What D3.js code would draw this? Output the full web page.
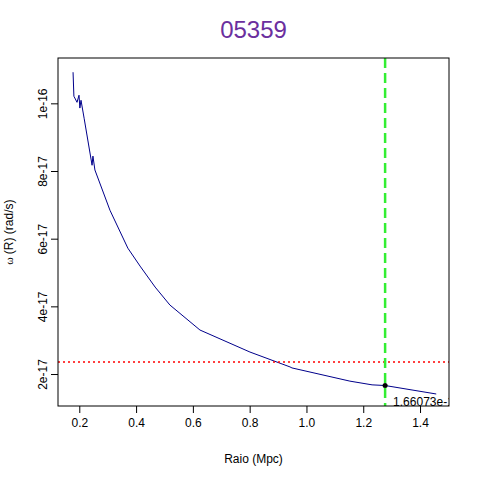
<!DOCTYPE html>
<html><head><meta charset="utf-8">
<script src="https://cdn.jsdelivr.net/npm/d3@7"></script>
<style>body{margin:0;background:#fff}text{font-family:"Liberation Sans",Arial,sans-serif}</style>
</head><body><svg id="c" width="480" height="480"></svg>
<script>
var radius = [0.178,0.181,0.192,0.199,0.202,0.206,0.217,0.245,0.248,0.255,0.308,0.371,0.414,0.467,0.519,0.625,0.801,0.942,0.949,1.153,1.231,1.277,1.457];
var omega = [10.92,10.21,10.03,10.24,9.86,10.09,9.56,8.17,8.44,8.03,6.84,5.72,5.19,4.57,4.04,3.30,2.65,2.21,2.18,1.79,1.68,1.66,1.41].map(function(d){return d*1e-17;});
var xTicks = [0.2,0.4,0.6,0.8,1.0,1.2,1.4];
var yTicks = [2e-17,4e-17,6e-17,8e-17,1e-16];
var yTickLabels = ["2e-17","4e-17","6e-17","8e-17","1e-16"];
var cutR = 1.277, refOmega = 2.355e-17, pointOmega = 1.66073e-17;

var L=58,R=449,T=58,B=406;
var svg=d3.select("#c");
var x=d3.scaleLinear().domain([0.125,1.502]).range([L,R]);
var y=d3.scaleLinear().domain([1.055e-17,11.34e-17]).range([B,T]);

svg.append("defs").append("clipPath").attr("id","clip").append("rect")
  .attr("x",L).attr("y",T).attr("width",R-L).attr("height",B-T);
var g=svg.append("g").attr("clip-path","url(#clip)");

g.append("path").datum(radius.map(function(r,i){return [r,omega[i]];}))
  .attr("d",d3.line().x(function(d){return x(d[0]);}).y(function(d){return y(d[1]);}))
  .attr("fill","none").attr("stroke","#00008b").attr("stroke-width",1);
g.append("line").attr("x1",L).attr("x2",R).attr("y1",y(refOmega)).attr("y2",y(refOmega))
  .attr("stroke","#ff0000").attr("stroke-width",1.5).attr("stroke-dasharray","2,3");
g.append("line").attr("x1",x(cutR)).attr("x2",x(cutR)).attr("y1",T).attr("y2",B)
  .attr("stroke","#33ee33").attr("stroke-width",2.5).attr("stroke-dasharray","10,5");
g.append("circle").attr("cx",x(cutR)).attr("cy",y(pointOmega)).attr("r",2.5).attr("fill","#000");
g.append("text").attr("x",x(cutR)+8).attr("y",y(pointOmega)+20).attr("font-size",12).text("1.66073e-17");

svg.append("rect").attr("x",L).attr("y",T).attr("width",R-L).attr("height",B-T)
  .attr("fill","none").attr("stroke","#000");

var xa=svg.append("g").attr("transform","translate(0,"+B+")")
  .call(d3.axisBottom(x).tickValues(xTicks).tickFormat(d3.format(".1f")).tickSize(7).tickPadding(5));
var ya=svg.append("g").attr("transform","translate("+L+",0)")
  .call(d3.axisLeft(y).tickValues(yTicks).tickFormat(function(d,i){return yTickLabels[i];}).tickSize(7));
[xa,ya].forEach(function(a){a.select(".domain").remove();a.selectAll("text").attr("font-size",12).attr("fill","#000").style("font-family","Liberation Sans, Arial");});
ya.selectAll(".tick text").attr("transform","rotate(-90)").attr("x",0).attr("dy",0).attr("y",-11).attr("text-anchor","middle");

svg.append("text").attr("x",(L+R)/2).attr("y",463).attr("text-anchor","middle").attr("font-size",12).text("Raio (Mpc)");
svg.append("text").attr("transform","translate(13,"+(T+B)/2+") rotate(-90)").attr("text-anchor","middle").attr("font-size",12)
  .html('<tspan font-size="9">ω</tspan> (R) (rad/s)');
svg.append("text").attr("x",(L+R)/2).attr("y",38).attr("text-anchor","middle").attr("font-size",24).attr("fill","#6b2f9e").text("05359");
</script></body></html>
